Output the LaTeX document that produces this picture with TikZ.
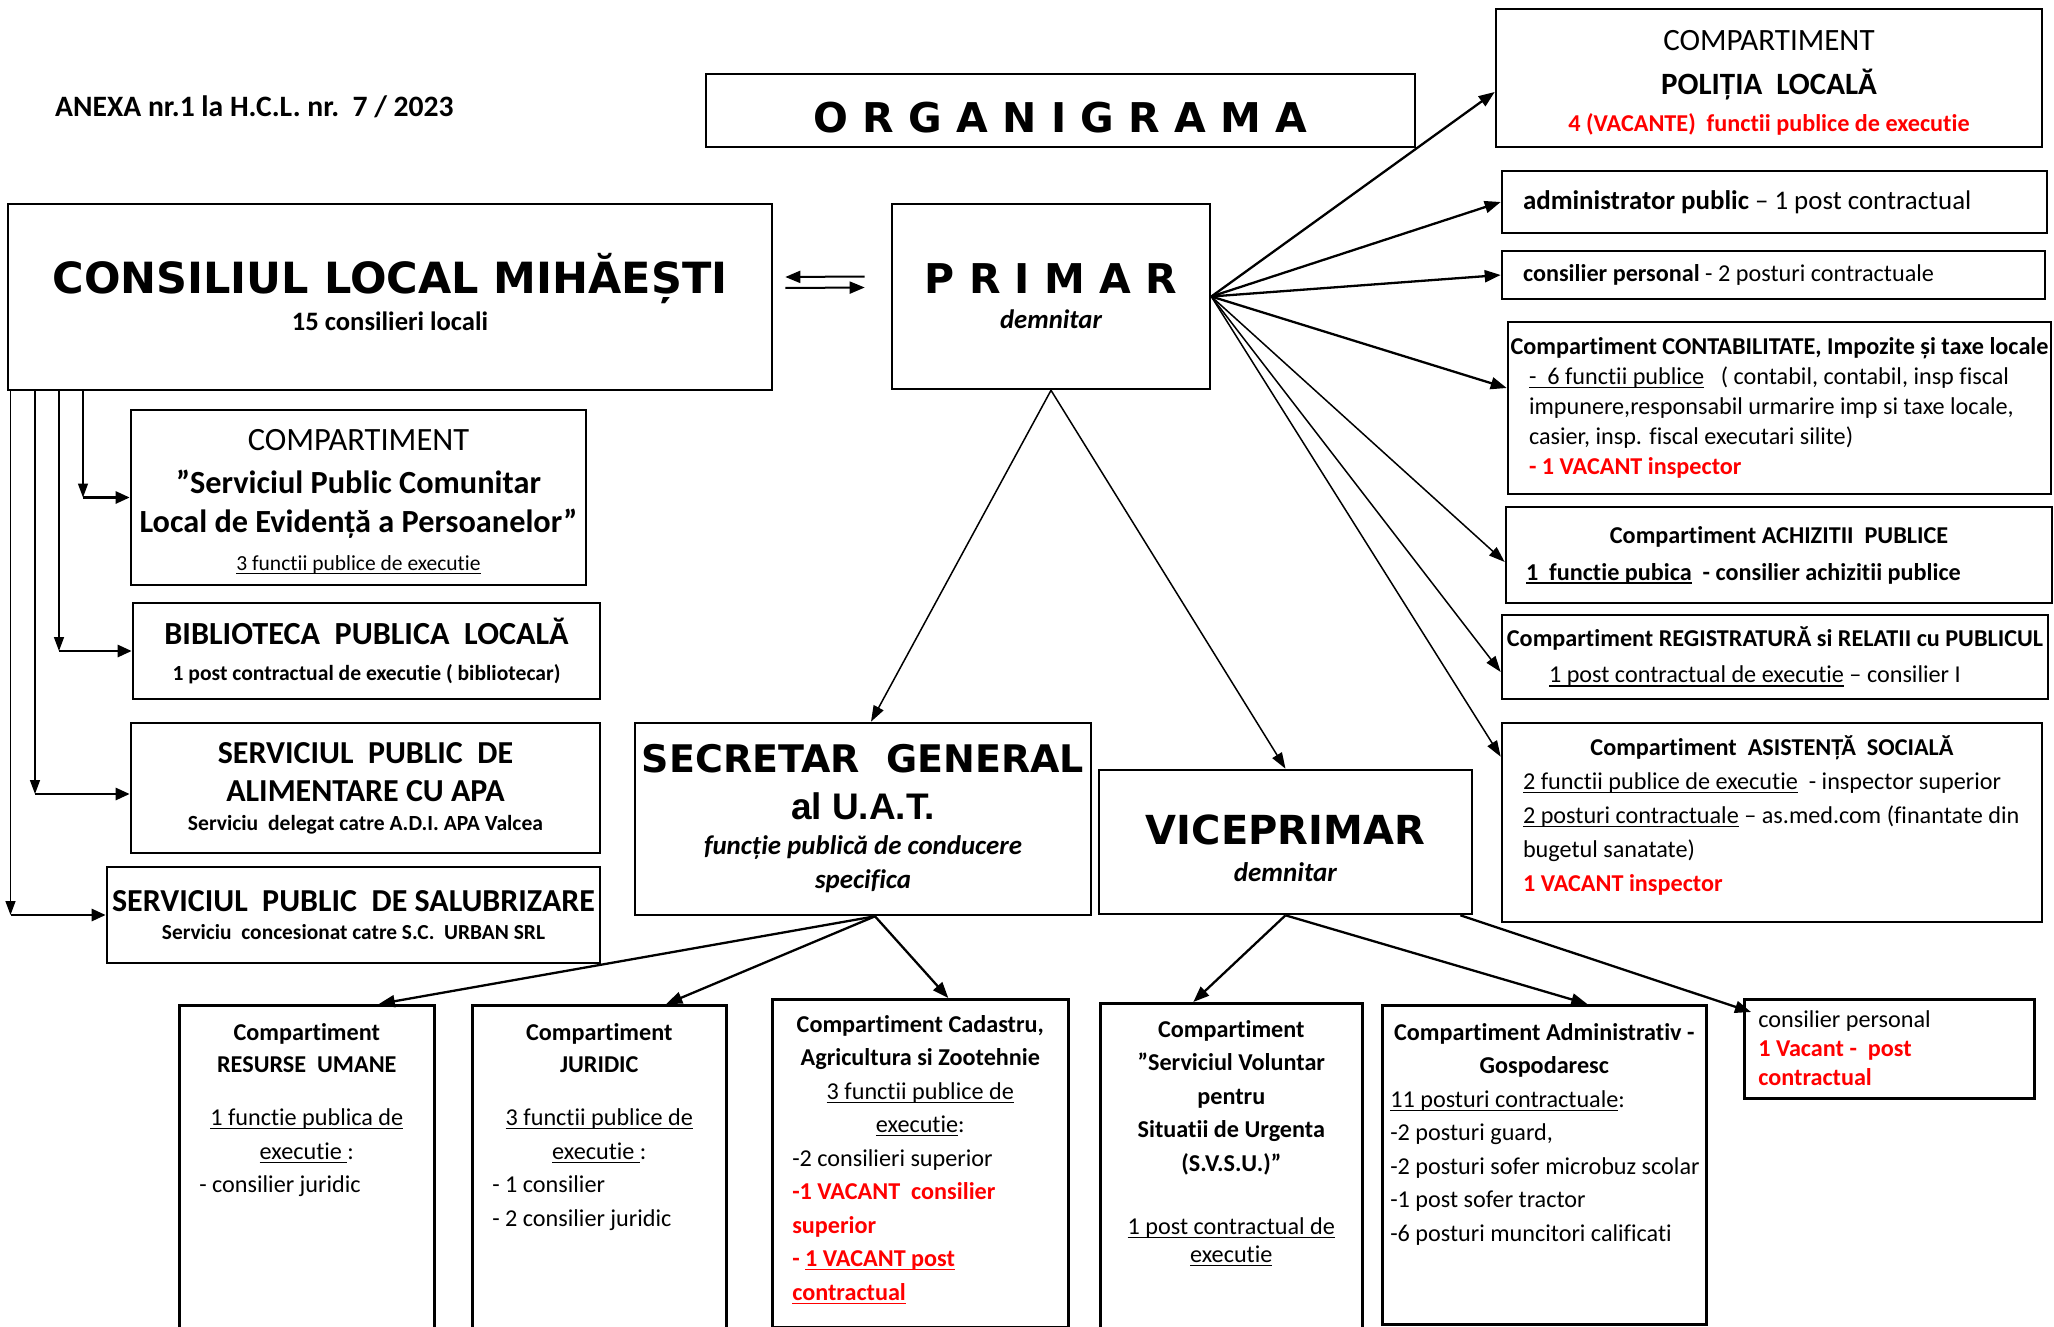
\documentclass[tikz,border=0pt]{standalone}
\usepackage{fontspec}
\setmainfont{Carlito}[Ligatures=NoCommon]
\newfontfamily\heavyfont{DejaVu Sans}
\newfontfamily\arialfont{Liberation Sans}
\usetikzlibrary{arrows.meta}

\newcommand{\fs}[2]{\fontsize{#1}{#2}\selectfont}
\newcommand{\vac}[1]{\textcolor{red}{\textbf{#1}}}
\newcommand{\lft}[2]{\makebox[#1][l]{#2}}
\newcommand{\hgt}[1]{\rule{0pt}{#1}}
\newcommand{\dpt}[1]{\rule[-#1]{0pt}{#1}}
\newsavebox{\ulbox}
\newcommand{\ulin}[1]{\sbox{\ulbox}{#1}\rlap{\rule[-3.8pt]{\wd\ulbox}{1.4pt}}\usebox{\ulbox}}

\tikzset{
  box/.style={draw, line width=2.6pt, inner sep=0pt, align=center},
  txt/.style={inner sep=0pt, align=center, anchor=north},
  arr/.style={line width=2.3pt, -{Triangle[length=16pt,width=12pt]}},
  farr/.style={line width=1.5pt, -{Triangle[length=16pt,width=11pt]}},
  varr/.style={line width=1.5pt, -{Triangle[length=14pt,width=10pt]}},
  harr/.style={line width=2.6pt, -{Triangle[length=14pt,width=12pt]}},
  darr/.style={line width=2pt, -{Triangle[length=15pt,width=12pt]}},
}

\begin{document}
\begin{tikzpicture}[x=1pt, y=-1pt]
  \clip (0,0) rectangle (2054,1327);
  \fill[white] (0,0) rectangle (2054,1327);

  % header
  \node[anchor=west, inner sep=0pt, font=\bfseries\fs{29.6}{34}] (anexa) at (55,107) {ANEXA nr.1 la H.C.L. nr.\ \ 7 / 2023};
  \node[box, minimum width=709, minimum height=73, text height=44pt, font=\heavyfont\bfseries\fs{41}{48}] (org) at (1060.5,110.5) {O R G A N I G R A M A};

  % top level
  \node[box, minimum width=764, minimum height=186, font=\fs{26.6}{37}] (cl) at (390,297)
    {{\heavyfont\bfseries\fs{43}{50}CONSILIUL LOCAL MIHĂEȘTI}\\{\bfseries 15 consilieri locali\dpt{11pt}}};
  \node[box, minimum width=318, minimum height=185, font=\fs{26.7}{35}] (primar) at (1051,296.5)
    {{\heavyfont\bfseries\fs{41}{48}P R I M A R}\\{\bfseries\itshape demnitar}};

  % right column
  \node[box, minimum width=546, minimum height=138, font=\fs{31}{40}] (pol) at (1769,78)
    {\hgt{29pt}COMPARTIMENT\\[4pt]\textbf{POLIȚIA\ \ LOCALĂ}\\[-3pt]{\fs{24.2}{28}\vac{4 (VACANTE)\ \ functii publice de executie}}};
  \node[box, minimum width=545, minimum height=62, font=\fs{26.9}{30}] (admpub) at (1774.5,202)
    {\lft{503pt}{\textbf{administrator public} – 1 post contractual}};
  \node[box, minimum width=543, minimum height=48, font=\fs{24.2}{28}] (cpers) at (1773.5,275)
    {\lft{501pt}{\textbf{consilier personal} - 2 posturi contractuale}};
  \node[box, minimum width=543, minimum height=172, font=\fs{24.2}{30}] (contab) at (1779.5,408)
    {\textbf{Compartiment CONTABILITATE, Impozite și taxe locale}\\
     \lft{501pt}{\ulin{-\ \ 6 functii publice}\ \ \ ( contabil, contabil, insp fiscal}\\
     \lft{501pt}{impunere,responsabil urmarire imp si taxe locale,}\\
     \lft{501pt}{casier, insp. fiscal executari silite)}\\
     \lft{501pt}{\vac{- 1 VACANT inspector}}};
  \node[box, minimum width=546, minimum height=96, font=\fs{24.2}{37}] (achiz) at (1779,555)
    {\textbf{Compartiment ACHIZITII\ \ PUBLICE}\\
     \lft{506pt}{\textbf{\ulin{1\ \ functie pubica}\ \ - consilier achizitii publice}}};
  \node[box, minimum width=546, minimum height=84, font=\fs{24.2}{36}] (regis) at (1775,657)
    {\textbf{Compartiment REGISTRATURĂ si RELATII cu PUBLICUL}\\
     \lft{452pt}{\ulin{1 post contractual de executie} – consilier I}};
  \node[box, minimum width=540, minimum height=199, font=\fs{24.2}{34}] (asist) at (1772,822.5)
    {\textbf{Compartiment\ \ ASISTENȚĂ\ \ SOCIALĂ}\\
     \lft{498pt}{\ulin{2 functii publice de executie}\ \ - inspector superior}\\
     \lft{498pt}{\ulin{2 posturi contractuale} – as.med.com (finantate din}\\
     \lft{498pt}{bugetul sanatate)}\\
     \lft{498pt}{\vac{1 VACANT inspector}\dpt{18pt}}};

  % left column
  \node[box, minimum width=455, minimum height=175, font=\fs{32.3}{40}] (spclep) at (358.5,497.5)
    {{\fs{32.5}{40}\hgt{30pt}COMPARTIMENT}\\[3pt]\textbf{”Serviciul Public Comunitar}\\[-1pt]
     \textbf{Local de Evidență a Persoanelor”}\\[-2pt]{\fs{21.5}{25}\ulin{3 functii publice de executie}}};
  \node[box, minimum width=467, minimum height=96, font=\bfseries\fs{32.2}{40}] (bibl) at (366.5,651)
    {BIBLIOTECA\ \ PUBLICA\ \ LOCALĂ\\[-3.5pt]{\fs{21.6}{25}1 post contractual de executie ( bibliotecar)}};
  \node[box, minimum width=469, minimum height=130, font=\bfseries\fs{32}{38}] (apa) at (365.5,788)
    {SERVICIUL\ \ PUBLIC\ \ DE\\ALIMENTARE CU APA\\[-9pt]{\fs{21.6}{25}Serviciu\ \ delegat catre A.D.I. APA Valcea}};
  \node[box, minimum width=493, minimum height=96, font=\bfseries\fs{32}{28}] (salub) at (353.5,915)
    {SERVICIUL\ \ PUBLIC\ \ DE SALUBRIZARE\\{\fs{21.4}{25}Serviciu\ \ concesionat catre S.C.\ \ URBAN SRL}};

  % middle
  \node[box, minimum width=456, minimum height=192, font=\fs{26.9}{34}] (secr) at (863,819)
    {{\heavyfont\bfseries\fs{38}{42}SECRETAR\ \ GENERAL}\\[13pt]{\arialfont\bfseries\fs{37}{40}al U.A.T.}\\[1pt]
     \textbf{\textit{funcție publică de conducere}}\\\textbf{\textit{specifica}}};
  \node[box, minimum width=373, minimum height=144, font=\fs{27}{37.5}] (vice) at (1285.5,842)
    {{\heavyfont\bfseries\fs{40}{45}\hgt{42.5pt}VICEPRIMAR}\\\textbf{\textit{demnitar}}};

  % bottom row
  \node[box, anchor=north west, minimum width=255, minimum height=340] (ru) at (178,1004) {};
  \node[txt, font=\fs{24.2}{33.5}] (rutxt) at ([yshift=-19]ru.north)
    {\textbf{Compartiment}\\[-1.5pt]\textbf{RESURSE\ \ UMANE}\\[20pt]
     \ulin{1 functie publica de}\\\ulin{executie\ }:\\\lft{215pt}{- consilier juridic}};
  \node[box, anchor=north west, minimum width=254, minimum height=340] (jur) at (471,1004) {};
  \node[txt, font=\fs{24.2}{33.5}] (jurtxt) at ([yshift=-19]jur.north)
    {\textbf{Compartiment}\\[-1.5pt]\textbf{JURIDIC}\\[20pt]
     \ulin{3 functii publice de}\\\ulin{executie\ }:\\\lft{214pt}{- 1 consilier}\\\lft{214pt}{- 2 consilier juridic}};
  \node[box, anchor=north west, minimum width=296, minimum height=328] (cad) at (771,998) {};
  \node[txt, font=\fs{24.2}{33.5}] (cadtxt) at ([yshift=-17]cad.north)
    {\textbf{Compartiment Cadastru,}\\\textbf{Agricultura si Zootehnie}\\
     \ulin{3 functii publice de}\\\ulin{executie}:\\
     \lft{256pt}{-2 consilieri superior}\\\lft{256pt}{\vac{-1 VACANT\ \ consilier}}\\
     \lft{256pt}{\vac{superior}}\\\lft{256pt}{\vac{- \ulin{1 VACANT post}}}\\
     \lft{256pt}{\vac{\ulin{contractual}}}};
  \node[box, anchor=north west, minimum width=262, minimum height=340] (svsu) at (1099,1002) {};
  \node[txt, font=\fs{24.2}{33.5}] (svsutxt) at ([yshift=-18]svsu.north)
    {\textbf{Compartiment}\\\textbf{”Serviciul Voluntar}\\\textbf{pentru}\\
     \textbf{Situatii de Urgenta}\\\textbf{(S.V.S.U.)”}\\[30pt]
     \ulin{1 post contractual de}\\[-5.5pt]\ulin{executie}};
  \node[box, anchor=north west, minimum width=324, minimum height=319] (adm) at (1381,1004) {};
  \node[txt, font=\fs{24.2}{33.5}] (admtxt) at ([yshift=-19]adm.north)
    {\textbf{Compartiment Administrativ -}\\\textbf{Gospodaresc}\\
     \lft{308pt}{\ulin{11 posturi contractuale}:}\\\lft{308pt}{-2 posturi guard,}\\
     \lft{308pt}{-2 posturi sofer microbuz scolar}\\\lft{308pt}{-1 post sofer tractor}\\
     \lft{308pt}{-6 posturi muncitori calificati}};
  \node[box, anchor=north west, minimum width=290, minimum height=99] (cpv) at (1743,998) {};
  \node[txt, font=\fs{24.2}{33.5}] (cpvtxt) at ([yshift=-12]cpv.north)
    {\lft{262pt}{consilier personal}\\[-4pt]\lft{262pt}{\vac{1 Vacant -\ \ post}}\\[-5pt]
     \lft{262pt}{\vac{contractual}}};

  % bends of the council lines
  \coordinate (k1) at (83,0);
  \coordinate (k2) at (59,0);
  \coordinate (k3) at (35,0);
  \coordinate (k4) at (10.5,0);

  % council <-> mayor
  \draw[darr] ([xshift=-26,yshift=20]primar.west) to ([xshift=12,yshift=20]cl.east);
  \draw[darr] ([xshift=12,yshift=9]cl.east) to ([xshift=-26,yshift=9]primar.west);

  % council to services
  \begin{scope}[varr]
    \draw (k1 |- cl.south) to (k1 |- spclep.west);
    \draw (k2 |- cl.south) to (k2 |- bibl.west);
    \draw (k3 |- cl.south) to ([yshift=-6]k3 |- apa.west);
    \draw (k4 |- cl.south) to (k4 |- salub.west);
  \end{scope}
  \begin{scope}[harr]
    \draw (k1 |- spclep.west) to (spclep.west);
    \draw (k2 |- bibl.west) to (bibl.west);
    \draw ([yshift=-6]k3 |- apa.west) to ([yshift=-6]apa.west);
    \draw (k4 |- salub.west) to (salub.west);
  \end{scope}

  % mayor fan
  \begin{scope}[arr]
    \draw (primar.east) to ([yshift=-14]pol.west);
    \draw (primar.east) to (admpub.west);
    \draw (primar.east) to (cpers.west);
    \draw (primar.east) to ([yshift=20]contab.west);
  \end{scope}
  \begin{scope}[farr]
    \draw (primar.east) to ([yshift=-7]achiz.west);
    \draw (primar.east) to ([yshift=-15]regis.west);
    \draw (primar.east) to ([yshift=-35]asist.north west);
    \draw (primar.south) to ([xshift=8]secr.north);
    \draw (primar.south) to (vice.north);
  \end{scope}

  % secretary and deputy mayor
  \begin{scope}[arr]
    \draw ([xshift=12]secr.south) to ([xshift=72]ru.north);
    \draw ([xshift=12]secr.south) to ([xshift=67]jur.north);
    \draw ([xshift=12]secr.south) to ([xshift=28]cad.north);
    \draw (vice.south) to ([xshift=-38]svsu.north);
    \draw (vice.south) to ([xshift=43]adm.north);
    \draw ([xshift=-13]vice.south east) to ([xshift=8,yshift=-14]cpv.north west);
  \end{scope}
\end{tikzpicture}
\end{document}
